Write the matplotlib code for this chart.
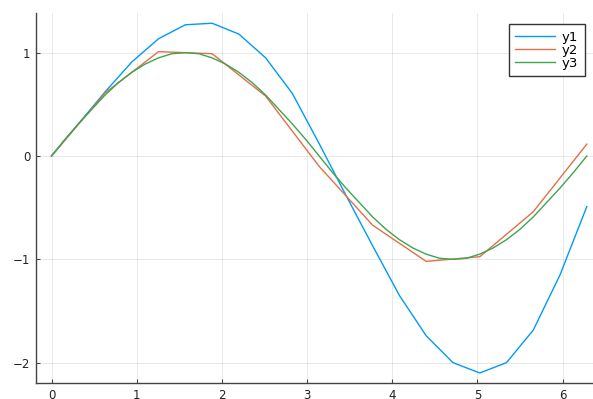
import numpy as np
import matplotlib.pyplot as plt

# 21 samples for y1, 11 for y2, 41 for y3
x1 = np.linspace(0, 2 * np.pi, 21)
y1 = [0, 0.31, 0.62, 0.91, 1.135, 1.27, 1.285, 1.18, 0.95, 0.605, 0.12,
      -0.38, -0.87, -1.35, -1.74, -2.0, -2.1, -2.0, -1.685, -1.15, -0.49]

x2 = np.linspace(0, 2 * np.pi, 11)
y2 = [0, 0.61, 1.01, 0.99, 0.58, -0.1, -0.67, -1.02, -0.975, -0.54, 0.115]

x3 = np.linspace(0, 2 * np.pi, 41)
y3 = [0, 0.16, 0.31, 0.45, 0.59, 0.71, 0.81, 0.89, 0.95, 0.99, 1.0,
      0.99, 0.95, 0.89, 0.81, 0.71, 0.59, 0.45, 0.31, 0.16, 0,
      -0.16, -0.31, -0.45, -0.59, -0.71, -0.81, -0.89, -0.95, -0.99, -1.0,
      -0.99, -0.95, -0.89, -0.81, -0.71, -0.59, -0.45, -0.31, -0.16, 0]

labels = ['y1', 'y2', 'y3']
colors = ['#009AFA', '#E36F47', '#3EA44E']

fig = plt.figure(figsize=(5.93, 3.99), dpi=100)
ax = fig.add_axes([36 / 593, 16 / 399, 557 / 593, 370 / 399])

for xs, ys, lab, col in zip([x1, x2, x3], [y1, y2, y3], labels, colors):
    ax.plot(xs, ys, color=col, lw=1.0, label=lab)

ax.set_xlim(-0.182, 6.356)
ax.set_ylim(-2.197, 1.384)
ax.set_xticks([0, 1, 2, 3, 4, 5, 6])
ax.set_yticks([-2, -1, 0, 1])
ax.set_yticklabels(['\u22122', '\u22121', '0', '1'])

ax.grid(True, color='black', alpha=0.1, lw=0.6)
ax.set_axisbelow(True)
for s in ['top', 'right']:
    ax.spines[s].set_visible(False)
for s in ['left', 'bottom']:
    ax.spines[s].set_color('#444444')
    ax.spines[s].set_linewidth(1.0)
ax.tick_params(direction='in', length=3, width=0.8, color='#444444',
               labelsize=8.5, labelcolor='#222222', pad=4)

leg = ax.legend(loc='upper right', bbox_to_anchor=(0.985, 0.97), fontsize=9.5,
                fancybox=False, framealpha=1, edgecolor='#333333',
                handlelength=3.0, handletextpad=0.5, labelspacing=0.0,
                borderpad=0.5, borderaxespad=0)
leg.get_frame().set_linewidth(1.0)

fig.savefig('out.png', dpi=100)
